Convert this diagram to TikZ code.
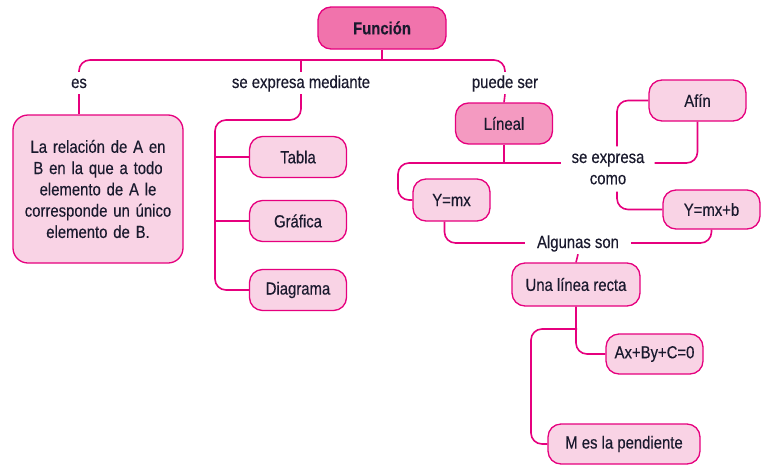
\documentclass[tikz,border=0pt]{standalone}
\usepackage{fontspec}
\setmainfont{Liberation Sans}[FakeStretch=0.85, FakeBold=0.35]
\usetikzlibrary{positioning, calc}
\definecolor{magline}{HTML}{E6007E}
\definecolor{palepink}{HTML}{F9D3E5}
\definecolor{midpink}{HTML}{F49AC1}
\definecolor{hotpink}{HTML}{F173AC}
\definecolor{inkblue}{HTML}{1A1A2E}

\begin{document}
\begin{tikzpicture}[x=1pt, y=-1pt,
	font=\fontsize{17.5}{21.3}\selectfont, text=inkblue,
	concept/.style={draw=magline, fill=palepink, line width=1.3pt,
		rounded corners=13pt, minimum width=97pt, minimum height=41pt},
	linkword/.style={inner xsep=10pt, inner ysep=3pt,
		text height=13pt, text depth=3pt},
	link/.style={draw=magline, line width=1.6pt, rounded corners=11pt}]

	\useasboundingbox[fill=white] (0,0) rectangle (767,471);

	\node[concept, fill=hotpink, font=\fontsize{17.5}{21.3}\selectfont\bfseries,
		minimum width=128pt, minimum height=42pt] at (382, 28) (fun){Función};
	\coordinate (hub) at (382, 60);

	\node[linkword] at (79, 83) (es){es};
	\node[linkword] at (301, 83) (mediante){se expresa mediante};
	\node[linkword] at (505, 83) (puede){puede ser};

	\node[concept, rounded corners=15pt, text width=160pt, align=center,
		minimum width=170pt, minimum height=148pt] at (98, 189) (defbox)
		{La relación de A en\\ B en la que a todo\\ elemento de A le\\ corresponde un único\\ elemento de B.};

	\node[concept] at (298, 157) (tab){Tabla};
	\node[concept] at (298, 221) (gra){Gráfica};
	\node[concept] at (298, 290) (dia){Diagrama};
	\coordinate (spine) at (215, 120);

	\node[concept, fill=midpink] at (504, 123.5) (lineal){Líneal};
	\coordinate (lj) at (504, 163);
	\coordinate (ljleft) at (398, 163);
	\node[concept, minimum width=77pt, minimum height=42pt] at (451.5, 200) (ymx){Y=mx};
	\node[linkword, align=center, inner ysep=7pt, text height=, text depth=] at (608, 169) (sexp){se expresa\\como};
	\node[concept] at (697.5, 100.5) (afin){Afín};
	\node[concept, minimum height=39pt] at (711.5, 209.5) (ymxb){Y=mx+b};

	\node[linkword, inner xsep=12pt] at (578, 243) (alg){Algunas son};
	\node[concept, minimum width=128pt, minimum height=43pt] at (576, 284.5) (recta){Una línea recta};
	\node[concept, minimum height=40pt] at (654.5, 354) (ax){Ax+By+C=0};
	\node[concept, minimum width=152pt, minimum height=40pt] at (624, 444) (mpend){M es la pendiente};
	\coordinate (rj) at (577, 329);
	\coordinate (rjleft) at (531, 329);

	\draw[link] (fun.south) -- (hub);
	\draw[link] (hub) -| (es.north);
	\draw[link] (hub) -| (puede.north);
	\draw[link] (hub -| mediante.north) -- (mediante.north);
	\draw[link] (es.south) -- (es.south |- defbox.north);
	\draw[link] (mediante.south) |- (spine) |- (dia.west);
	\draw[link] (tab.west -| spine) -- (tab.west);
	\draw[link] (gra.west -| spine) -- (gra.west);
	\draw[link] (puede.south) -- (lineal.north);

	\draw[link] (lineal.south) -- (lj);
	\draw[link] (lj) -- (ljleft) |- (ymx.west);
	\draw[link] (lj) -- (lj -| sexp.west);
	\draw[link] (lj -| sexp.east) -| (afin.south);
	\draw[link] (afin.west) -| ([xshift=9pt]sexp.north);
	\draw[link] ([xshift=9pt]sexp.south) |- (ymxb.west);

	\draw[link] ([xshift=-7pt]ymx.south) |- (alg.west);
	\draw[link] (ymxb.south) |- (alg.east);
	\draw[link] (alg.south) -- (recta.north);
	\draw[link] (recta.south) |- (ax.west);
	\draw[link] (rj) -- (rjleft) |- (mpend.west);
\end{tikzpicture}
\end{document}
